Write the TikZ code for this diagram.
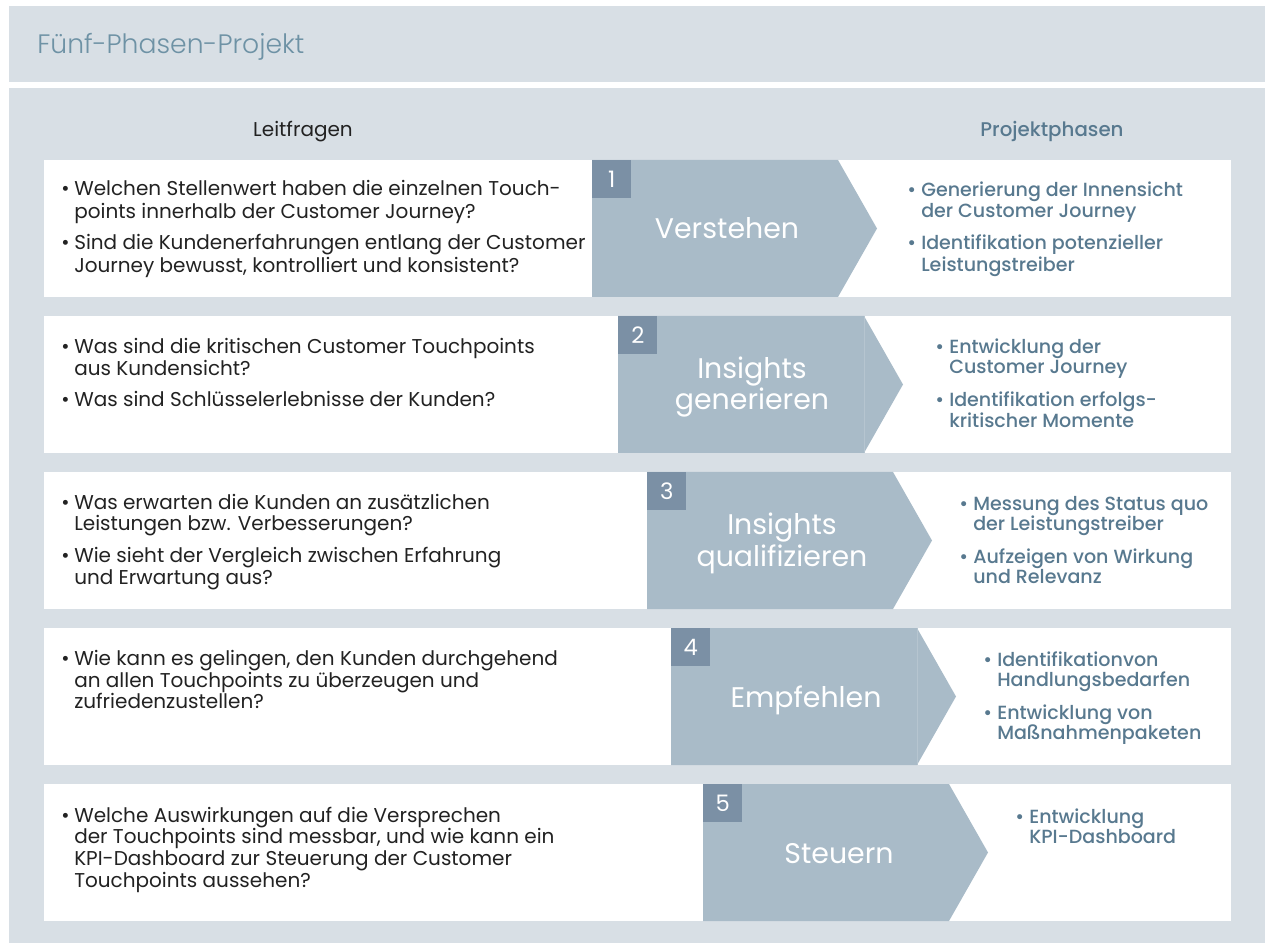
\documentclass[tikz,border=0pt]{standalone}
\usepackage{fontspec}
\setmainfont{Poppins}
\newfontfamily\lightfont{Poppins Light}
\newfontfamily\mediumfont{Poppins Medium}
\definecolor{panelgray}{HTML}{D8DFE5}
\definecolor{phasefill}{HTML}{A9BBC8}
\definecolor{numfill}{HTML}{7B90A5}
\definecolor{titleblue}{HTML}{6E92A5}
\definecolor{phasetext}{HTML}{58798F}
\definecolor{bodytext}{HTML}{222222}
\tikzset{
  qtext/.style={font=\fontsize{15}{18}\selectfont, text=bodytext, anchor=base west, inner sep=0pt},
  ptext/.style={font=\mediumfont\fontsize{14.3}{17}\selectfont, text=phasetext, anchor=base west, inner sep=0pt},
  qdot/.style={qtext},
  pdot/.style={ptext},
  rowbox/.style={fill=white, draw=none},
  phaselabel/.style={font=\fontsize{21.3}{24}\selectfont, text=white, anchor=base, inner sep=0pt},
  numbox/.style={fill=numfill, draw=none, anchor=north west, minimum width=29.25pt, minimum height=28.5pt, inner sep=0pt,
    font=\fontsize{17}{20}\selectfont, text=white},
}
\begin{document}
\begin{tikzpicture}[x=0.75pt, y=-0.75pt]
\useasboundingbox (0,0) rectangle (1265,952);
\fill[white] (0,0) rectangle (1265,952);
% grey panel with header stripe
\fill[panelgray] (9,6) rectangle (1265,943);
\fill[white] (9,82) rectangle (1265,88);
\node[font=\lightfont\fontsize{20}{23}\selectfont, text=titleblue, anchor=base west, inner sep=0pt] (title) at (37,54) {Fünf-Phasen-Projekt};
\node[font=\fontsize{15}{18}\selectfont, text=bodytext, anchor=base, inner sep=0pt] (hleft) at (303,137) {Leitfragen};
\node[font=\mediumfont\fontsize{14.85}{18}\selectfont, text=phasetext, anchor=base, inner sep=0pt] (hright) at (1052,137) {Projektphasen};

% white rows and phase arrows
\foreach \top/\sx/\n in {160/592/1, 316/618/2, 472/647/3, 628/671/4, 784/703/5}{
  \fill[rowbox] (44,\top) rectangle (1231,\top+137);
  \fill[phasefill] (\sx,\top) -- (\sx+246,\top) -- (\sx+285,\top+68.5) -- (\sx+246,\top+137) -- (\sx,\top+137) -- cycle;
  \node[numbox] (num\n) at (\sx,\top) {\n};
}
% faint seams inside arrows 2 and 4
\draw[phasefill!85!white, line width=0.5pt] (864,316) -- (864,453);
\draw[phasefill!85!white, line width=0.5pt] (917,628) -- (917,765);

% phase names
\node[phaselabel] (ph1) at (727,239) {Verstehen};
\node[phaselabel] (ph2a) at (752,379) {Insights};
\node[phaselabel] (ph2b) at (752,410) {generieren};
\node[phaselabel] (ph3a) at (782,534) {Insights};
\node[phaselabel] (ph3b) at (782,566) {qualifizieren};
\node[phaselabel] (ph4) at (806,707) {Empfehlen};
\node[phaselabel] (ph5) at (839,863) {Steuern};

% guiding questions
\node[qdot] (q1a) at (61,196) {•};
\node[qtext] (q1a1) at (74,196) {Welchen Stellenwert haben die einzelnen Touch-};
\node[qtext] (q1a2) at (74,219) {points innerhalb der Customer Journey?};
\node[qdot] (q1b) at (61,250) {•};
\node[qtext] (q1b1) at (74,250) {Sind die Kundenerfahrungen entlang der Customer};
\node[qtext] (q1b2) at (74,273) {Journey bewusst, kontrolliert und konsistent?};

\node[qdot] (q2a) at (61,354) {•};
\node[qtext] (q2a1) at (74,354) {Was sind die kritischen Customer Touchpoints};
\node[qtext] (q2a2) at (74,376) {aus Kundensicht?};
\node[qdot] (q2b) at (61,407) {•};
\node[qtext] (q2b1) at (74,407) {Was sind Schlüsselerlebnisse der Kunden?};

\node[qdot] (q3a) at (61,509) {•};
\node[qtext] (q3a1) at (74,509) {Was erwarten die Kunden an zusätzlichen};
\node[qtext] (q3a2) at (74,531) {Leistungen bzw. Verbesserungen?};
\node[qdot] (q3b) at (61,562) {•};
\node[qtext] (q3b1) at (74,562) {Wie sieht der Vergleich zwischen Erfahrung};
\node[qtext] (q3b2) at (74,584) {und Erwartung aus?};

\node[qdot] (q4a) at (61,665) {•};
\node[qtext] (q4a1) at (74,665) {Wie kann es gelingen, den Kunden durchgehend};
\node[qtext] (q4a2) at (74,687) {an allen Touchpoints zu überzeugen und};
\node[qtext] (q4a3) at (74,708) {zufriedenzustellen?};

\node[qdot] (q5a) at (61,822) {•};
\node[qtext] (q5a1) at (74,822) {Welche Auswirkungen auf die Versprechen};
\node[qtext] (q5a2) at (74,843) {der Touchpoints sind messbar, und wie kann ein};
\node[qtext] (q5a3) at (74,865) {KPI-Dashboard zur Steuerung der Customer};
\node[qtext] (q5a4) at (74,887) {Touchpoints aussehen?};

% project phases
\node[pdot] (p1a) at (907,197) {•};
\node[ptext] (p1a1) at (921,197) {Generierung der Innensicht};
\node[ptext] (p1a2) at (921,218) {der Customer Journey};
\node[pdot] (p1b) at (907,250) {•};
\node[ptext] (p1b1) at (921,250) {Identifikation potenzieller};
\node[ptext] (p1b2) at (921,272) {Leistungstreiber};

\node[pdot] (p2a) at (935,354) {•};
\node[ptext] (p2a1) at (949,354) {Entwicklung der};
\node[ptext] (p2a2) at (949,374) {Customer Journey};
\node[pdot] (p2b) at (935,407) {•};
\node[ptext] (p2b1) at (949,407) {Identifikation erfolgs-};
\node[ptext] (p2b2) at (949,428) {kritischer Momente};

\node[pdot] (p3a) at (959,510) {•};
\node[ptext] (p3a1) at (973,510) {Messung des Status quo};
\node[ptext] (p3a2) at (973,531) {der Leistungstreiber};
\node[pdot] (p3b) at (959,563) {•};
\node[ptext] (p3b1) at (973,563) {Aufzeigen von Wirkung};
\node[ptext] (p3b2) at (973,583) {und Relevanz};

\node[pdot] (p4a) at (983,666) {•};
\node[ptext] (p4a1) at (997,666) {Identifikationvon};
\node[ptext] (p4a2) at (997,686) {Handlungsbedarfen};
\node[pdot] (p4b) at (983,719) {•};
\node[ptext] (p4b1) at (997,719) {Entwicklung von};
\node[ptext] (p4b2) at (997,739) {Maßnahmenpaketen};

\node[pdot] (p5a) at (1015,823) {•};
\node[ptext] (p5a1) at (1029,823) {Entwicklung};
\node[ptext] (p5a2) at (1029,843) {KPI-Dashboard};
\end{tikzpicture}
\end{document}
